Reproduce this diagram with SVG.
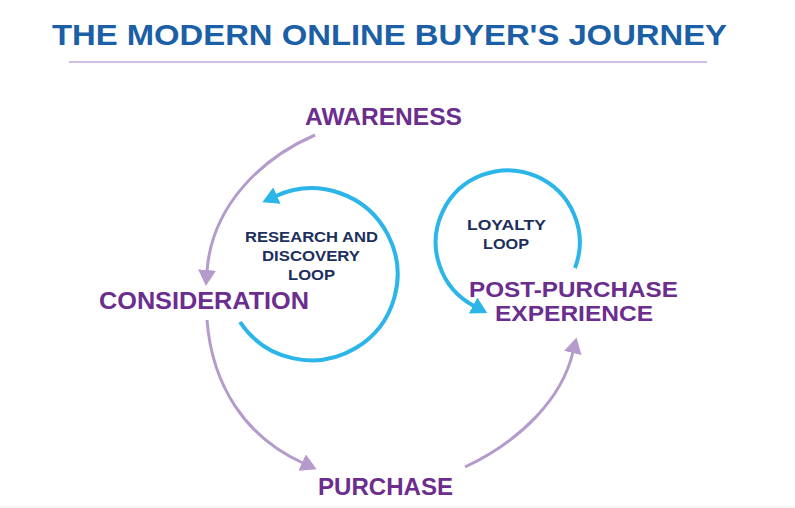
<svg xmlns="http://www.w3.org/2000/svg" width="795" height="508" viewBox="0 0 795 508">
<style>
.t{font-family:"Liberation Sans",Arial,sans-serif;font-weight:700}
.title{fill:#1b5fa6;font-size:30px}
.stage{fill:#6b2d8e;font-size:24px}
.stage2{fill:#6b2d8e;font-size:22px}
.loop{fill:#1d2f5c;font-size:15px}
.pa{fill:none;stroke:#b49bcc;stroke-width:3}
.ba{fill:none;stroke:#2cb5e9;stroke-width:4}
</style>
<defs>
<marker id="mp" markerUnits="userSpaceOnUse" markerWidth="16" markerHeight="18" viewBox="0 0 16 18" refX="1" refY="9" orient="auto">
<path d="M0,0 L16,9 L0,18 z" fill="#b49bcc"/>
</marker>
<marker id="mb" markerUnits="userSpaceOnUse" markerWidth="16" markerHeight="18" viewBox="0 0 16 18" refX="1" refY="9" orient="auto">
<path d="M0,0 L16,9 L0,18 z" fill="#2cb5e9"/>
</marker>
</defs>
<rect width="795" height="508" fill="#ffffff"/>
<line x1="0" y1="507" x2="795" y2="507" stroke="#ececec" stroke-width="1"/>
<g id="title">
<text class="t title" x="52" y="45" textLength="675" lengthAdjust="spacingAndGlyphs">THE MODERN ONLINE BUYER'S JOURNEY</text>
<line x1="69" y1="62" x2="707" y2="62" stroke="#d3bde2" stroke-width="2"/>
</g>
<g id="connectors">
<path class="pa" d="M315,135 C262,158 212,205 207,271" marker-end="url(#mp)"/>
<path class="pa" d="M207,320 C212,385 245,437 303,463" marker-end="url(#mp)"/>
<path class="pa" d="M465,467 C522,440 562,398 573,352" marker-end="url(#mp)"/>
<path class="ba" d="M240,322 A86,86 0 1 0 276,196" marker-end="url(#mb)"/>
<path class="ba" d="M575,268 A72,72 0 1 0 474,306" marker-end="url(#mb)"/>
</g>
<g id="awareness"><text class="t stage" x="305" y="125" textLength="157" lengthAdjust="spacingAndGlyphs">AWARENESS</text></g>
<g id="consideration"><text class="t stage" x="99" y="309" textLength="210" lengthAdjust="spacingAndGlyphs">CONSIDERATION</text></g>
<g id="post-purchase">
<text class="t stage2" x="469" y="297" textLength="209" lengthAdjust="spacingAndGlyphs">POST-PURCHASE</text>
<text class="t stage2" x="495" y="321" textLength="158" lengthAdjust="spacingAndGlyphs">EXPERIENCE</text>
</g>
<g id="purchase"><text class="t stage" x="318" y="495" textLength="135" lengthAdjust="spacingAndGlyphs">PURCHASE</text></g>
<g id="research-loop">
<text class="t loop" x="245" y="242" textLength="133" lengthAdjust="spacingAndGlyphs">RESEARCH AND</text>
<text class="t loop" x="262" y="261" textLength="98" lengthAdjust="spacingAndGlyphs">DISCOVERY</text>
<text class="t loop" x="288" y="280" textLength="47" lengthAdjust="spacingAndGlyphs">LOOP</text>
</g>
<g id="loyalty-loop">
<text class="t loop" x="467" y="230" textLength="79" lengthAdjust="spacingAndGlyphs">LOYALTY</text>
<text class="t loop" x="483" y="249" textLength="46" lengthAdjust="spacingAndGlyphs">LOOP</text>
</g>
</svg>
